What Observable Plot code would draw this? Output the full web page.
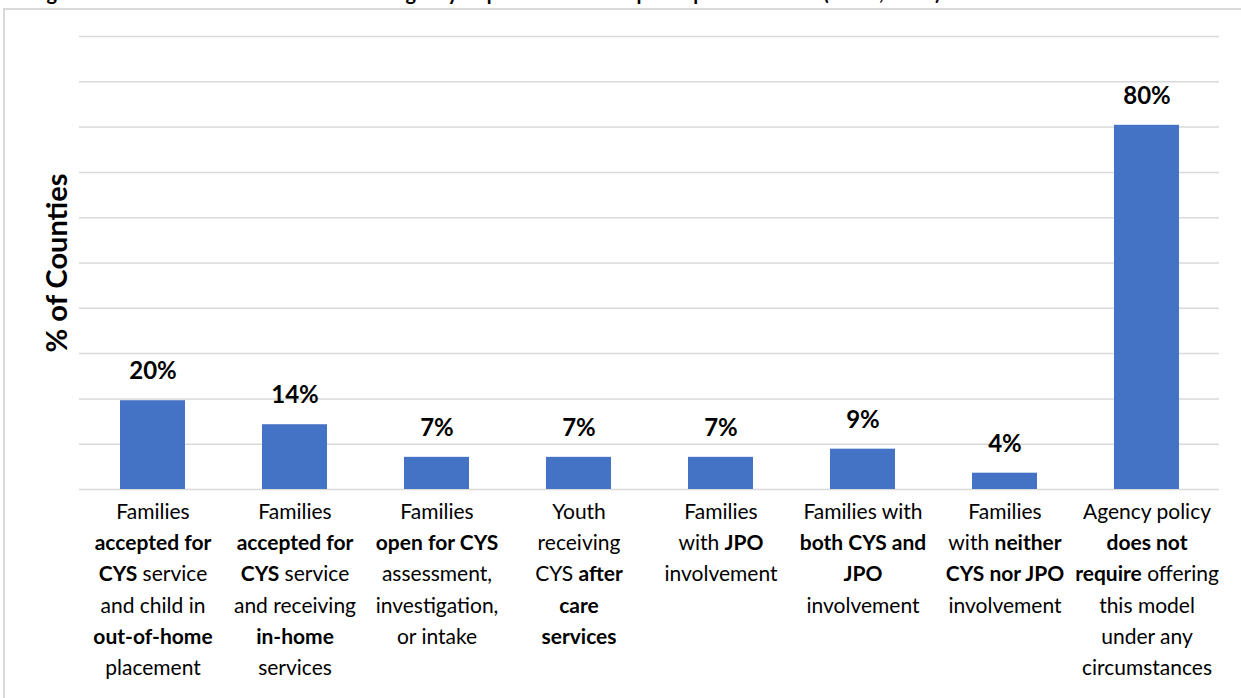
<!DOCTYPE html>
<html>
<head>
<meta charset="utf-8">
<script src="https://cdn.jsdelivr.net/npm/d3@7"></script>
<script src="https://cdn.jsdelivr.net/npm/@observablehq/plot@0.6"></script>
<style>
  html, body { margin: 0; padding: 0; background: #fff; overflow: hidden; }
  #wrap { position: relative; width: 1241px; height: 698px; overflow: hidden; font-family: Lato, "Open Sans", sans-serif; }
  #title { position: absolute; left: 30px; top: -19px; white-space: nowrap; font-weight: bold; font-size: 20px; line-height: 22px; color: #000; }
  #frame { position: absolute; left: 3px; top: 8px; width: 1260px; height: 720px; border: 2px solid #d9d9d9; box-sizing: border-box; }
  #chart { position: absolute; left: 0; top: 0; }
</style>
</head>
<body>
<div id="wrap">
  <div id="title">Figure 5. Circumstances under which the agency requires families to participate in FGDM (N=56, 2019)</div>
  <div id="frame"></div>
  <div id="chart"></div>
</div>
<script>
// Categories (bold parts marked with **)
const categories = [
  "Families\n**accepted for**\n**CYS** service\nand child in\n**out-of-home**\nplacement",
  "Families\n**accepted for**\n**CYS** service\nand receiving\n**in-home**\nservices",
  "Families\n**open for CYS**\nassessment,\ninvestigation,\nor intake",
  "Youth\nreceiving\nCYS **after**\n**care**\n**services**",
  "Families\nwith **JPO**\ninvolvement",
  "Families with\n**both CYS and**\n**JPO**\ninvolvement",
  "Families\nwith **neither**\n**CYS nor JPO**\ninvolvement",
  "Agency policy\n**does not**\n**require** offering\nthis model\nunder any\ncircumstances"
];
// % of counties
const values = [19.6, 14.3, 7.1, 7.1, 7.1, 8.9, 3.6, 80.4];
const valueLabels = ["20%", "14%", "7%", "7%", "7%", "9%", "4%", "80%"];
const yTicks = [0, 10, 20, 30, 40, 50, 60, 70, 80, 90, 100];
const yLabel = "% of Counties";

const data = categories.map((c, i) => ({category: c, value: values[i], label: valueLabels[i]}));

const chart = Plot.plot({
  width: 1241,
  height: 698,
  marginLeft: 79,
  marginRight: 22,
  marginTop: 36,
  marginBottom: 209,
  style: {fontFamily: "Lato, 'Open Sans', sans-serif", color: "#000", background: "transparent"},
  x: {domain: categories, paddingInner: 0.544, paddingOuter: 0.272, axis: null},
  y: {domain: [0, 100], axis: null},
  marks: [
    Plot.gridY(yTicks, {stroke: "#d9d9d9", strokeOpacity: 1, strokeWidth: 1.5}),
    Plot.barY(data, {x: "category", y: "value", fill: "#4472C4"}),
    Plot.text(data, {x: "category", y: "value", text: "label", dy: -29, lineAnchor: "middle",
      fontSize: 24, fontWeight: "bold", fill: "#000"}),
    Plot.axisX({tickSize: 0, tickPadding: 7, fontSize: 21, lineHeight: 1.49, label: null,
      fill: "#000", tickFormat: d => d, textOverflow: null}),
    Plot.text([yLabel], {frameAnchor: "left", rotate: -90, dx: -21.5, textAnchor: "middle", lineAnchor: "middle",
      fontSize: 29, fontWeight: "bold", fill: "#000"})
  ]
});

// Apply bold segments to the tick labels
function styleParts(node) {
  const s = node.textContent;
  node.textContent = "";
  s.split(/(\*\*[^*]+\*\*)/).forEach(part => {
    if (!part) return;
    const bold = part.startsWith("**");
    const t = d3.select(node).append("tspan").text(bold ? part.slice(2, -2) : part);
    if (bold) t.attr("font-weight", "bold");
  });
}
d3.select(chart).selectAll('g[aria-label="x-axis tick label"] text').each(function() {
  const spans = d3.select(this).selectAll(":scope > tspan");
  if (spans.empty()) styleParts(this);
  else spans.each(function() { styleParts(this); });
});

document.getElementById("chart").appendChild(chart);
</script>
</body>
</html>
